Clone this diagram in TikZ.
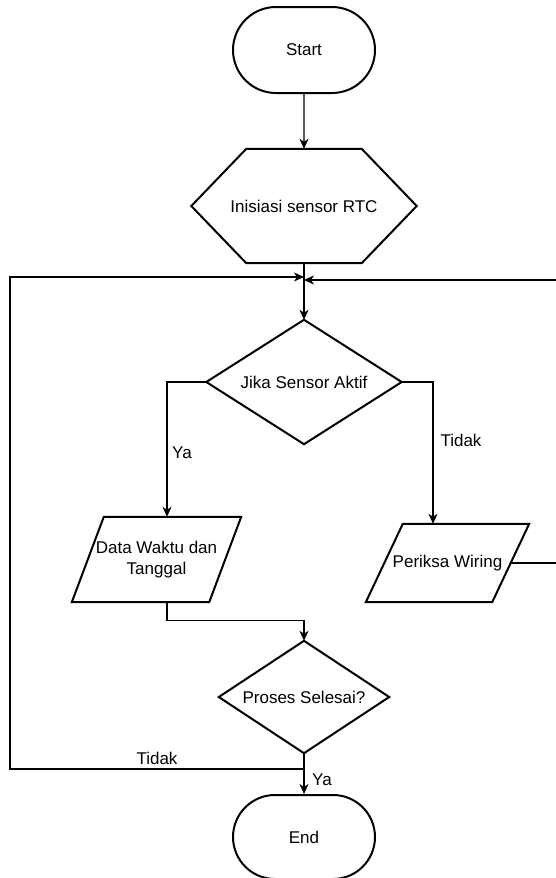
\documentclass[tikz,border=0pt]{standalone}
\usepackage{fontspec}
\setmainfont{Liberation Sans}
\usetikzlibrary{shapes.misc,arrows.meta,calc}
\begin{document}
\begin{tikzpicture}[x=1pt,y=-1pt,
  font=\fontsize{17}{21}\selectfont,
  outline/.style={line width=2pt,line join=miter},
  term/.style={draw,line width=2pt,rounded rectangle,minimum width=142pt,inner sep=0pt},
  box/.style={rectangle,inner sep=0pt,align=center},
  conn/.style={line width=1.3pt},
  arr/.style={conn,-{Stealth[length=10pt,width=9pt,inset=3pt]}},
  lbl/.style={inner sep=0pt}]
\useasboundingbox (0,0) rectangle (556,878);

% terminators
\node[term,minimum height=86pt] (start) at (304,50) {Start};
\node[term,minimum height=84pt] (end) at (304,837) {End};

% preparation hexagon
\node[box,minimum width=225pt,minimum height=114pt] (init) at (304,206) {Inisiasi sensor RTC};
\draw[outline] (init.west) -- ([xshift=55pt]init.north west) -- ([xshift=-55pt]init.north east)
  -- (init.east) -- ([xshift=-55pt]init.south east) -- ([xshift=55pt]init.south west) -- cycle;

% decisions
\node[box,minimum width=195pt,minimum height=124pt] (d1) at (304,382) {Jika Sensor Aktif};
\draw[outline] (d1.north) -- (d1.east) -- (d1.south) -- (d1.west) -- cycle;
\node[box,minimum width=170pt,minimum height=112pt] (d2) at (304,697) {Proses Selesai?};
\draw[outline] (d2.north) -- (d2.east) -- (d2.south) -- (d2.west) -- cycle;

% input/output
\node[box,minimum width=169pt,minimum height=85pt] (data) at (156.5,559.5) {Data Waktu dan\\Tanggal};
\draw[outline] ([xshift=32pt]data.north west) -- (data.north east)
  -- ([xshift=-32pt]data.south east) -- (data.south west) -- cycle;
\node[box,minimum width=163pt,minimum height=78pt] (per) at (447.5,563) {Periksa Wiring};
\draw[outline] ([xshift=37pt]per.north west) -- (per.north east)
  -- ([xshift=-37pt]per.south east) -- (per.south west) -- cycle;

% routing points
\coordinate (jL) at (304,277);
\coordinate (jR) at (304,280);
\coordinate (colL) at (167,0);
\coordinate (colR) at (433,0);
\coordinate (rt) at (562,0);
\coordinate (lp) at (10,769);

% connectors
\draw[arr] (start) -- (init);
\draw[conn] (init) -- (jL);
\draw[arr] (jL) -- (d1);
\draw[arr] (d1.west) -| (colL |- data.north);
\draw[arr] (d1.east) -| (colR |- per.north);
\draw[arr] ([xshift=-18.5pt]per.east) -- (rt |- per.east) |- (jR);
\draw[arr] (colL |- data.south) -- ++(0,18) -| (d2.north);
\draw[arr] (d2) -- (end);
\draw[arr] (d2.south |- lp) -- (lp) |- (jL);

% branch labels
\node[lbl] (ya1) at (182,453) {Ya};
\node[lbl] (tidak1) at (461,440) {Tidak};
\node[lbl] (tidak2) at (157,758) {Tidak};
\node[lbl] (ya2) at (322,780) {Ya};
\end{tikzpicture}
\end{document}
